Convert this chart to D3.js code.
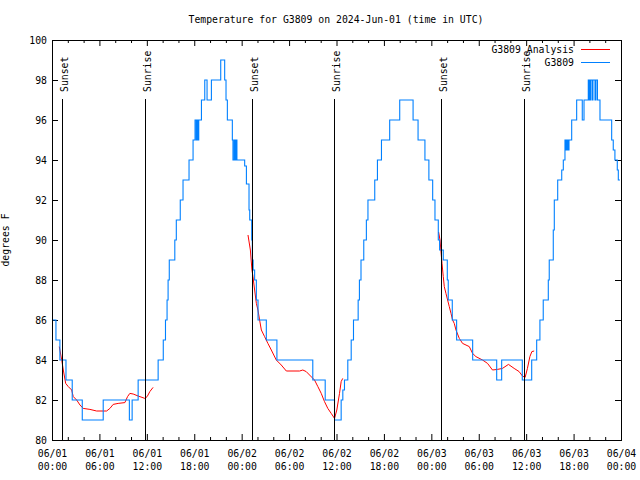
<!DOCTYPE html>
<html>
<head>
<meta charset="utf-8">
<script src="https://cdn.jsdelivr.net/npm/d3@7"></script>
<style>
body { margin: 0; background: #fff; }
text { font-family: "DejaVu Sans Mono", monospace; font-size: 9.8px; fill: #000; }
</style>
</head>
<body>
<div id="chart"></div>
<script>
const chartTitle = "Temperature for G3809 on 2024-Jun-01 (time in UTC)";
const yLabel = "degrees F";
const startTime = Date.UTC(2024, 5, 1, 0, 0);
const spanHours = 72;
const yTicks = [80, 82, 84, 86, 88, 90, 92, 94, 96, 98, 100];
const seriesNames = ["G3809 Analysis", "G3809"];
const seriesColors = ["#ff0000", "#0080ff"];

// [label, hours since 06/01 00:00 UTC]
const sunEvents = [
	["Sunset", 1.3], ["Sunrise", 11.8],
	["Sunset", 25.34], ["Sunrise", 35.72],
	["Sunset", 49.26], ["Sunrise", 59.76]
];

// station obs: [hours, degF], held until the next change
const observed = [
	[0.00, 86], [0.50, 85], [1.00, 84], [1.77, 83], [2.56, 82], [3.83, 81],
	[6.48, 82], [9.79, 81], [10.14, 82], [10.90, 83], [13.43, 84], [14.08, 85],
	[14.36, 86], [14.56, 87], [14.69, 88], [14.84, 89], [15.54, 90], [15.73, 91],
	[16.23, 92], [16.58, 93], [17.34, 94], [17.85, 95], [18.10, 96], [18.25, 95],
	[18.38, 96], [18.48, 95], [18.57, 96], [18.91, 97], [19.33, 98], [19.62, 97],
	[20.17, 98], [21.35, 99], [21.85, 98], [22.02, 97], [22.19, 96], [22.82, 95],
	[22.90, 94], [23.05, 95], [23.18, 94], [23.28, 95], [23.40, 94], [24.38, 93.7],
	[24.60, 92.8], [24.93, 91.5], [25.02, 91], [25.27, 90], [25.35, 89], [25.45, 88.5],
	[25.64, 88], [25.86, 87], [26.07, 86], [27.12, 85], [28.46, 84], [33.00, 83],
	[34.57, 82], [35.75, 81], [36.59, 82], [36.80, 82.5], [37.01, 83], [37.43, 84],
	[37.86, 85], [38.15, 86], [38.74, 87], [38.90, 88], [39.10, 89], [39.45, 90],
	[39.78, 91], [39.98, 92], [40.84, 93], [41.18, 94], [41.69, 95], [42.73, 96],
	[44.00, 97], [45.69, 96], [46.32, 95], [47.19, 94], [47.69, 93], [48.17, 92],
	[48.46, 91], [48.88, 90], [49.05, 89.5], [49.51, 89], [50.02, 88], [50.14, 87],
	[50.65, 86], [51.20, 85], [53.23, 84], [56.27, 83], [56.90, 84], [59.51, 83],
	[60.70, 84], [61.33, 85], [61.74, 86], [62.16, 87], [62.80, 88], [62.92, 89],
	[63.43, 90.5], [63.56, 92], [63.99, 93], [64.50, 93.5], [64.70, 94], [64.91, 95],
	[65.04, 94.5], [65.17, 95], [65.29, 94.5], [65.42, 95], [65.76, 96], [66.39, 97],
	[67.10, 96], [67.32, 97], [67.86, 98], [68.00, 97], [68.14, 98], [68.33, 97],
	[68.45, 98], [68.71, 97], [68.83, 98], [69.02, 97], [69.34, 96], [70.82, 95],
	[71.02, 94.5], [71.23, 94], [71.53, 93.5], [71.66, 93], [71.87, 93]
];

// analysis, one run per night
const analysisNight1 = [
	[0.92, 84.67], [1.23, 84.0], [1.43, 83.5], [1.73, 82.83], [2.06, 82.67], [2.49, 82.5],
	[2.69, 82.17], [3.12, 82.0], [3.54, 81.75], [3.95, 81.58], [4.80, 81.53], [5.65, 81.45],
	[6.91, 81.45], [7.33, 81.58], [7.74, 81.78], [8.37, 81.83], [9.22, 81.87], [9.56, 82.17],
	[9.85, 82.33], [10.27, 82.3], [10.90, 82.2], [11.75, 82.08], [12.04, 82.17], [12.38, 82.42],
	[12.79, 82.63]
];
const analysisNight2 = [
	[24.80, 90.25], [25.10, 89.5], [25.30, 88.5], [25.43, 88.17], [25.64, 87.5], [25.86, 86.83],
	[26.06, 86.5], [26.27, 86.0], [26.49, 85.5], [26.90, 85.17], [27.32, 84.83], [27.75, 84.5],
	[28.38, 84.0], [29.01, 83.75], [29.65, 83.45], [31.33, 83.45], [31.74, 83.5], [32.17, 83.42],
	[32.59, 83.25], [33.22, 83.0], [33.64, 82.67], [34.07, 82.33], [34.48, 81.92], [34.90, 81.58],
	[35.33, 81.33], [35.75, 81.08], [36.04, 81.5], [36.38, 82.33], [36.59, 82.92], [36.79, 83.08]
];
const analysisNight3 = [
	[48.92, 90.4], [49.10, 90.0], [49.35, 88.83], [49.51, 88.17], [49.64, 87.67], [49.85, 87.33],
	[50.06, 87.0], [50.27, 86.67], [50.49, 86.33], [50.69, 86.0], [50.90, 85.83], [51.12, 85.5],
	[51.54, 85.08], [51.95, 84.83], [52.80, 84.67], [53.22, 84.33], [53.64, 84.17], [54.48, 84.0],
	[55.11, 83.83], [55.74, 83.5], [56.37, 83.53], [57.00, 83.58], [57.76, 83.78], [58.48, 83.58],
	[59.11, 83.42], [59.53, 83.2], [59.87, 83.13], [60.16, 83.58], [60.47, 84.17], [60.72, 84.42],
	[61.01, 84.45]
];

const width = 640, height = 480;
const plotLeft = 52, plotRight = 621, plotTop = 40, plotBottom = 440;
const toDate = (h) => new Date(startTime + h * 3600e3);

const svg = d3.select("#chart").append("svg")
	.attr("width", width)
	.attr("height", height);

const x = d3.scaleUtc().domain([toDate(0), toDate(spanHours)]).range([plotLeft, plotRight]);
const y = d3.scaleLinear().domain([80, 100]).range([plotBottom, plotTop]);

const majorTimes = d3.utcHour.range(toDate(0), toDate(spanHours + 1), 6);
const minorTimes = d3.utcHour.range(toDate(0), toDate(spanHours + 1), 2)
	.filter((d) => d.getUTCHours() % 6 !== 0);

// ticks, all pointing into the plot
function tickAxis(axis, values, size) {
	return axis.tickValues(values).tickSizeInner(-size).tickSizeOuter(0).tickFormat("");
}

svg.append("g").attr("transform", `translate(0,${plotBottom})`)
	.call(tickAxis(d3.axisBottom(x), minorTimes, 3));
svg.append("g").attr("transform", `translate(0,${plotTop})`)
	.call(tickAxis(d3.axisTop(x), minorTimes, 3));
svg.append("g").attr("transform", `translate(0,${plotTop})`)
	.call(tickAxis(d3.axisTop(x), majorTimes, 6));
svg.append("g").attr("transform", `translate(${plotRight},0)`)
	.call(tickAxis(d3.axisRight(y), yTicks, 6));

const xAxis = svg.append("g").attr("class", "x-axis")
	.attr("transform", `translate(0,${plotBottom})`)
	.call(d3.axisBottom(x).tickValues(majorTimes).tickSizeInner(-6).tickSizeOuter(0).tickPadding(10)
		.tickFormat(d3.utcFormat("%m/%d|%H:%M")));
xAxis.selectAll("text").each(function() {
	const parts = d3.select(this).text().split("|");
	const t = d3.select(this).text(null).attr("dy", null).attr("y", 16.5);
	t.append("tspan").attr("x", 0).text(parts[0]);
	t.append("tspan").attr("x", 0).attr("dy", 13.3).text(parts[1]);
});

const yAxis = svg.append("g").attr("transform", `translate(${plotLeft},0)`)
	.call(d3.axisLeft(y).tickValues(yTicks).tickSizeInner(-6).tickSizeOuter(0).tickPadding(5));
yAxis.selectAll("text").attr("dy", "0.36em");

svg.selectAll(".domain").remove();
svg.selectAll(".tick line").attr("stroke", "#000");
svg.selectAll(".tick text").style("font-family", '"DejaVu Sans Mono", monospace').style("font-size", "9.8px");

// data
const analysisLine = d3.line()
	.x((d) => x(toDate(d[0])))
	.y((d) => y(d[1]));

svg.selectAll(".analysis")
	.data([analysisNight1, analysisNight2, analysisNight3])
	.enter()
	.append("path")
	.attr("class", "analysis")
	.attr("fill", "none")
	.attr("stroke", seriesColors[0])
	.attr("stroke-width", 1)
	.attr("d", analysisLine);

const obsLine = d3.line()
	.curve(d3.curveStepAfter)
	.x((d) => x(toDate(d[0])))
	.y((d) => y(d[1]));

svg.append("path")
	.datum(observed)
	.attr("fill", "none")
	.attr("stroke", seriesColors[1])
	.attr("stroke-width", 1.1)
	.attr("d", obsLine);

// sunrise / sunset markers
const sun = svg.selectAll(".sun")
	.data(sunEvents)
	.enter()
	.append("g")
	.attr("class", "sun");

sun.append("line")
	.attr("x1", (d) => Math.round(x(toDate(d[1]))) + 0.5)
	.attr("x2", (d) => Math.round(x(toDate(d[1]))) + 0.5)
	.attr("y1", y(97.05))
	.attr("y2", plotBottom)
	.attr("stroke", "#000")
	.attr("stroke-width", 1);

sun.append("text")
	.attr("transform", (d) => `translate(${x(toDate(d[1])) + 6},${y(97.4)}) rotate(-90)`)
	.text((d) => d[0]);

// frame
svg.append("rect")
	.attr("x", plotLeft + 0.5)
	.attr("y", plotTop + 0.5)
	.attr("width", plotRight - plotLeft)
	.attr("height", plotBottom - plotTop)
	.attr("fill", "none")
	.attr("stroke", "#000");

// title and labels
svg.append("text")
	.attr("x", 336)
	.attr("y", 23)
	.attr("text-anchor", "middle")
	.text(chartTitle);

svg.append("text")
	.attr("transform", "translate(9,240) rotate(-90)")
	.attr("text-anchor", "middle")
	.text(yLabel);

// legend
const legend = svg.selectAll(".legend")
	.data(seriesNames)
	.enter()
	.append("g")
	.attr("class", "legend")
	.attr("transform", (d, i) => `translate(0,${49.5 + i * 13})`);

legend.append("text")
	.attr("x", 574)
	.attr("dy", "0.36em")
	.attr("text-anchor", "end")
	.text((d) => d);

legend.append("line")
	.attr("x1", 581)
	.attr("x2", 610)
	.attr("stroke", (d, i) => seriesColors[i])
	.attr("stroke-width", 1);
</script>
</body>
</html>
